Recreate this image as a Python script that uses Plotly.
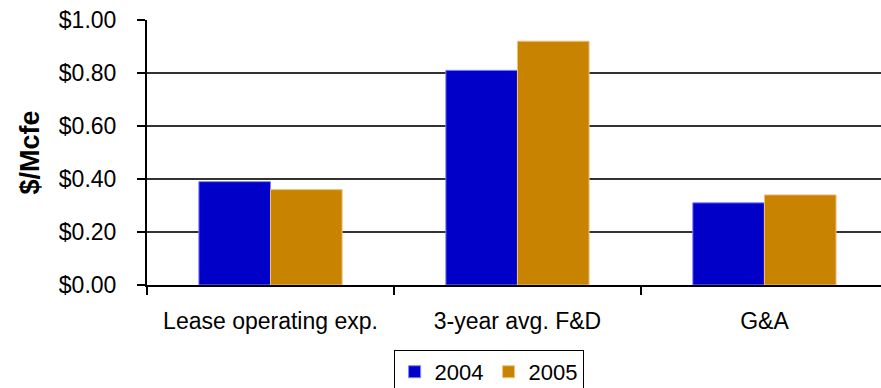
import plotly.graph_objects as go

categories = ["Lease operating exp.", "3-year avg. F&D", "G&A"]
values_2004 = [0.39, 0.81, 0.31]
values_2005 = [0.36, 0.92, 0.34]
series_names = ["2004", "2005"]
y_ticks = [0.0, 0.2, 0.4, 0.6, 0.8, 1.0]

FONT = "Liberation Sans, Arial, sans-serif"

fig = go.Figure()
fig.add_trace(go.Bar(
    x=categories, y=values_2004, name=series_names[0],
    marker=dict(color="#0000C8", line=dict(color="#8080FF", width=1)),
))
fig.add_trace(go.Bar(
    x=categories, y=values_2005, name=series_names[1],
    marker=dict(color="#C88400", line=dict(color="#F0C080", width=1)),
))

fig.update_layout(
    width=881, height=388,
    margin=dict(l=147, r=0, t=20, b=103, autoexpand=False),
    paper_bgcolor="white", plot_bgcolor="white",
    barmode="group", bargap=0.42, bargroupgap=0,
    font=dict(family=FONT, size=23, color="black"),
    showlegend=True,
    legend=dict(
        orientation="h", x=0.336, xanchor="left", y=-0.245, yanchor="top",
        bordercolor="black", borderwidth=1, bgcolor="white",
        font=dict(size=22), itemwidth=30, traceorder="normal",
    ),
    xaxis=dict(
        type="category", range=[-0.5, 2.472], automargin=False,
        showline=True, linecolor="black", linewidth=2,
        ticks="outside", tickson="boundaries", ticklen=8, tickwidth=2, tickcolor="black",
        tickfont=dict(size=23), showgrid=False, ticklabelstandoff=14,
    ),
    yaxis=dict(
        range=[0, 1.0], tickvals=y_ticks, tickformat="$.2f", automargin=False,
        showline=True, linecolor="black", linewidth=2,
        ticks="outside", ticklen=8, tickwidth=2, tickcolor="black",
        showgrid=True, gridcolor="#333333", gridwidth=2,
        zeroline=False, tickfont=dict(size=23), ticklabelstandoff=16,
        title=dict(text="<b>$/Mcfe</b>", font=dict(size=27), standoff=11),
    ),
)

fig.write_html("out.html")
